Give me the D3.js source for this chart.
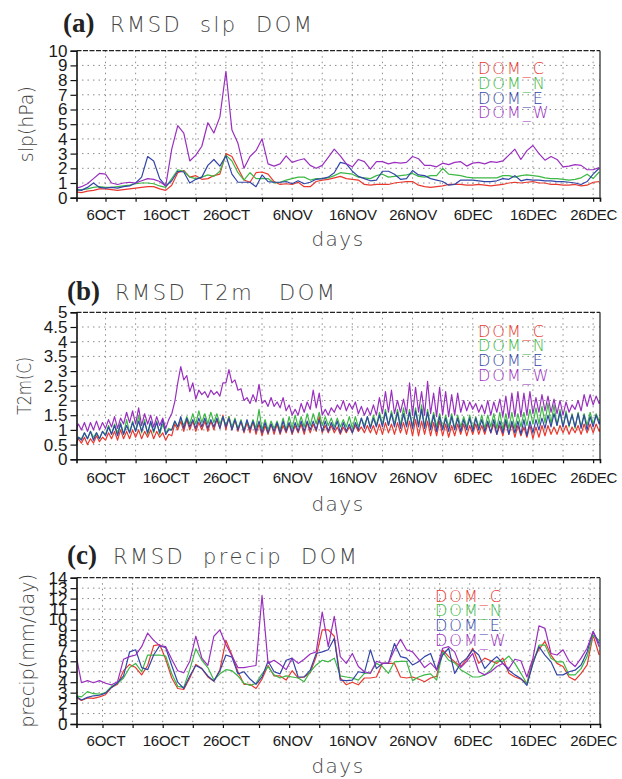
<!DOCTYPE html>
<html>
<head>
<meta charset="utf-8">
<script src="https://cdn.jsdelivr.net/npm/d3@7"></script>
<style>
body { margin: 0; background: #fff; }
</style>
</head>
<body>
<svg id="chart" width="622" height="779"></svg>
<script>
// ---- data ----
var seriesNames = ["DOM_C", "DOM_N", "DOM_E", "DOM_W"];
var xTickLabels = ["6OCT", "16OCT", "26OCT", "6NOV", "16NOV", "26NOV", "6DEC", "16DEC", "26DEC"];
var gridMonthDays = [1, 6, 11, 16, 21, 26];
var slpTicks = [0, 1, 2, 3, 4, 5, 6, 7, 8, 9, 10];
var t2mTicks = [0, 0.5, 1, 1.5, 2, 2.5, 3, 3.5, 4, 4.5, 5];
var precipTicks = [0, 1, 2, 3, 4, 5, 6, 7, 8, 9, 10, 11, 12, 13, 14];

// (a) slp, daily from 1 Oct
var slpC = [0.4,0.35,0.45,0.5,0.6,0.6,0.55,0.5,0.55,0.6,
  0.65,0.7,0.75,0.75,0.6,0.5,0.85,1.7,1.85,1.4,
  1.5,1.25,1.3,1.5,1.6,3.0,2.8,2.0,1.2,1.05,
  1.7,1.75,1.6,1.1,0.9,0.95,0.9,1.05,0.75,0.75,
  1.1,1.2,1.25,1.35,1.45,1.3,1.25,1.2,0.9,0.85,
  0.9,0.9,0.9,1.0,1.05,1.1,1.1,0.85,0.75,0.7,
  0.75,0.8,0.9,0.9,0.9,0.85,0.85,0.9,0.85,0.8,
  0.85,0.9,1.0,1.05,1.0,1.05,1.1,1.0,1.0,0.9,
  0.9,0.85,0.85,0.9,0.8,0.85,1.05,1.1];
var slpN = [0.5,0.55,0.6,0.7,0.75,0.7,0.7,0.75,0.8,0.85,
  0.95,1.0,1.0,0.95,0.8,0.7,1.3,1.9,1.8,1.4,
  1.3,1.4,1.55,1.45,1.8,2.9,2.5,1.7,1.2,1.7,
  1.3,1.3,1.3,1.0,1.05,1.2,1.3,1.4,1.4,1.2,
  1.3,1.3,1.35,1.5,1.7,1.65,1.6,1.4,1.35,1.3,
  1.5,1.6,1.4,1.45,1.5,1.55,1.65,1.45,1.4,1.5,
  1.5,2.0,1.6,1.55,1.5,1.4,1.35,1.35,1.35,1.35,
  1.35,1.5,1.5,1.4,1.5,1.55,1.5,1.45,1.35,1.3,
  1.3,1.25,1.2,1.25,1.35,1.6,1.3,1.75];
var slpE = [0.55,0.5,0.7,1.0,0.7,0.65,0.7,0.65,0.75,0.8,
  1.0,1.4,2.8,2.5,1.3,0.8,1.15,1.8,1.75,1.0,
  1.25,1.4,2.2,2.6,2.15,2.85,1.6,1.05,1.05,1.05,
  0.75,1.55,1.1,1.05,1.05,1.1,0.95,1.15,0.95,1.05,
  1.25,1.3,1.4,1.7,2.4,2.3,1.8,1.45,1.3,1.15,
  1.2,1.8,1.8,1.6,1.25,1.3,1.85,1.55,1.5,1.3,
  1.2,1.1,0.85,0.9,1.2,1.2,1.2,1.15,1.1,1.1,
  1.15,1.3,1.25,1.5,1.15,1.25,1.2,1.2,1.15,1.15,
  1.1,1.1,1.05,1.0,0.9,1.1,1.6,2.0];
var slpW = [0.63,0.75,0.95,1.3,1.65,1.6,1.0,0.9,1.0,1.05,
  1.0,1.15,1.3,1.25,1.1,0.8,3.3,4.9,4.4,2.5,
  2.9,3.5,5.1,4.4,5.5,8.6,4.6,3.7,2.0,2.8,
  3.2,4.0,2.3,2.15,2.3,2.85,2.4,2.55,2.65,2.2,
  2.0,2.2,2.75,3.3,2.85,2.3,2.1,2.6,2.45,1.95,
  2.45,2.45,2.3,2.4,2.35,2.4,2.8,2.65,2.2,2.2,
  2.1,2.35,2.25,2.4,2.45,2.15,2.35,2.4,2.3,2.45,
  2.4,2.5,2.9,3.3,2.6,3.2,3.55,3.0,2.55,2.8,
  2.6,2.1,2.15,2.25,2.2,1.9,1.9,2.05];

// (b) T2m, twice daily from 1 Oct
var t2mC = [0.5,0.7, 0.55,0.75, 0.5,0.7, 0.55,0.8, 0.6,0.75,
  0.65,0.9, 0.7,0.95, 0.65,1.0, 0.7,0.95, 0.7,1.0,
  0.75,1.0, 0.7,0.95, 0.75,1.0, 0.7,0.95, 0.75,0.9,
  0.65,0.85, 0.8,1.2, 1.0,1.3, 0.95,1.35, 1.0,1.3,
  0.95,1.25, 1.0,1.3, 0.95,1.3, 1.0,1.35, 1.05,1.5,
  1.0,1.45, 1.0,1.35, 0.95,1.3, 0.9,1.25, 0.9,1.3,
  0.85,1.2, 0.8,1.15, 0.85,1.2, 0.85,1.2, 0.85,1.15,
  0.9,1.2, 0.85,1.15, 0.9,1.2, 0.85,1.25, 0.9,1.2,
  0.95,1.45, 0.9,1.15, 0.9,1.15, 0.9,1.1, 0.85,1.1,
  0.9,1.1, 0.9,1.15, 0.95,1.1, 0.9,1.15, 0.9,1.15,
  0.85,1.2, 0.85,1.25, 0.9,1.2, 0.85,1.25, 0.9,1.25,
  0.85,1.3, 0.8,1.35, 0.8,1.3, 0.85,1.3, 0.8,1.25,
  0.8,1.3, 0.8,1.2, 0.75,1.15, 0.8,1.2, 0.85,1.2,
  0.8,1.15, 0.85,1.2, 0.85,1.15, 0.85,1.2, 0.9,1.2,
  0.85,1.15, 0.8,1.25, 0.85,1.2, 0.75,1.15, 0.8,1.1,
  0.75,1.15, 0.7,1.1, 0.75,1.15, 0.8,1.15, 0.85,1.1,
  0.85,1.15, 0.9,1.15, 0.85,1.1, 0.9,1.15, 0.85,1.2,
  0.9,1.2, 0.9,1.2, 0.95,1.2];
var t2mN = [0.4,0.75, 0.7,0.9, 0.7,0.95, 0.75,0.9, 0.7,0.95,
  0.85,1.15, 0.85,1.2, 0.9,1.25, 0.85,1.35, 0.9,1.3,
  0.95,1.5, 0.9,1.35, 0.85,1.25, 0.9,1.3, 0.85,1.2,
  0.9,1.05, 1.0,1.3, 1.1,1.4, 1.15,1.45, 1.2,1.55,
  1.2,1.65, 1.25,1.55, 1.2,1.6, 1.25,1.55, 1.2,1.45,
  1.15,1.45, 1.1,1.4, 1.05,1.35, 1.0,1.3, 1.05,1.35,
  1.05,1.7, 1.0,1.35, 1.0,1.3, 1.05,1.3, 1.0,1.4,
  1.0,1.45, 1.05,1.5, 1.1,1.45, 1.1,1.55, 1.15,1.55,
  1.2,1.6, 1.15,1.45, 1.15,1.4, 1.1,1.4, 1.1,1.35,
  1.1,1.45, 1.05,1.45, 1.1,1.4, 1.15,1.45, 1.1,1.5,
  1.15,1.6, 1.2,1.7, 1.15,1.65, 1.2,1.7, 1.15,1.75,
  1.15,1.7, 1.1,1.75, 1.15,1.85, 1.1,1.7, 1.1,1.6,
  1.1,1.55, 1.05,1.5, 1.1,1.55, 1.05,1.5, 1.1,1.45,
  1.1,1.5, 1.05,1.45, 1.1,1.5, 1.05,1.5, 1.1,1.55,
  1.05,1.6, 1.0,1.55, 1.05,1.6, 1.05,1.55, 1.1,1.6,
  1.15,1.7, 1.2,1.75, 1.2,1.8, 1.25,1.9, 1.2,1.85,
  1.15,1.7, 1.1,1.65, 1.1,1.55, 1.05,1.6, 1.1,1.55,
  1.15,1.6, 1.2,1.55, 1.3,1.5];
var t2mE = [0.45,0.75, 0.65,0.9, 0.7,0.95, 0.65,0.9, 0.7,0.95,
  0.8,1.1, 0.85,1.15, 0.8,1.2, 0.85,1.15, 0.9,1.25,
  0.95,1.3, 0.95,1.25, 0.9,1.3, 0.95,1.25, 0.9,1.35,
  0.85,1.0, 1.0,1.3, 1.1,1.45, 1.05,1.4, 1.1,1.35,
  1.05,1.4, 1.1,1.4, 1.05,1.35, 1.1,1.4, 1.05,1.45,
  1.1,1.4, 1.0,1.35, 1.0,1.3, 0.95,1.35, 1.0,1.3,
  0.95,1.3, 0.9,1.25, 0.9,1.2, 0.95,1.25, 0.9,1.3,
  0.95,1.25, 0.9,1.25, 0.95,1.3, 0.95,1.3, 1.0,1.3,
  1.0,1.35, 0.95,1.3, 0.95,1.25, 1.0,1.3, 0.9,1.25,
  0.95,1.2, 0.9,1.25, 1.0,1.4, 1.05,1.45, 1.05,1.4,
  1.1,1.5, 1.1,1.6, 1.15,1.55, 1.1,1.6, 1.05,1.55,
  1.1,1.6, 1.05,1.65, 1.1,1.7, 1.05,1.6, 1.0,1.5,
  0.95,1.45, 1.0,1.4, 0.95,1.45, 1.0,1.4, 0.95,1.35,
  1.0,1.4, 0.95,1.4, 1.0,1.35, 0.95,1.3, 0.9,1.35,
  0.85,1.3, 0.9,1.35, 0.85,1.3, 0.9,1.3, 0.85,1.35,
  0.8,1.3, 0.9,1.35, 1.0,1.4, 1.05,1.5, 1.1,1.55,
  1.15,1.6, 1.1,1.55, 1.15,1.5, 1.1,1.55, 1.05,1.5,
  1.0,1.45, 1.1,1.5, 1.2,1.5];
var t2mW = [0.95,1.2, 1.0,1.25, 0.95,1.25, 1.0,1.3, 1.0,1.25,
  1.05,1.35, 1.1,1.45, 1.05,1.4, 1.2,1.6, 1.25,1.65,
  1.2,1.75, 1.15,1.55, 1.2,1.5, 1.1,1.45, 1.15,1.4,
  1.05,1.35, 1.55,1.95, 2.6,3.15, 2.7,2.85, 2.3,2.6,
  2.05,2.35, 2.2,2.3, 2.1,2.35, 2.2,2.3, 2.15,2.6,
  2.6,3.05, 2.6,2.7, 2.35,2.4, 2.0,2.1, 1.9,2.2,
  1.95,2.55, 1.9,2.0, 1.8,2.1, 1.8,1.95, 1.75,2.1,
  1.65,1.85, 1.5,1.7, 1.5,1.9, 1.6,1.95, 1.7,2.35,
  1.75,2.25, 1.5,1.7, 1.5,1.75, 1.6,1.85, 1.7,2.0,
  1.65,1.9, 1.7,1.95, 1.55,1.8, 1.5,1.75, 1.5,1.85,
  1.5,2.1, 1.55,2.3, 1.6,2.35, 1.55,2.0, 1.6,2.05,
  1.55,2.6, 1.5,2.45, 1.6,2.3, 1.5,2.65, 1.55,2.25,
  1.45,2.45, 1.5,2.3, 1.45,2.2, 1.5,2.25, 1.6,2.0,
  1.65,1.95, 1.7,1.9, 1.6,1.85, 1.55,2.0, 1.5,1.95,
  1.6,2.05, 1.45,2.15, 1.4,2.25, 1.45,2.3, 1.45,2.25,
  1.5,2.3, 1.55,2.1, 1.6,2.2, 1.65,2.15, 1.6,2.05,
  1.55,2.0, 1.5,1.95, 1.6,1.85, 1.7,2.0, 1.65,2.2,
  1.8,2.2, 1.85,2.15, 1.9,2.1];

// (c) precip, daily from 1 Oct
var preC = [2.6,2.25,2.5,2.45,2.6,2.8,3.5,3.8,5.1,5.7,
  5.4,4.7,5.6,7.5,7.6,6.2,4.4,3.4,3.3,4.4,
  5.7,5.3,4.5,4.1,5.2,8.0,6.6,5.0,3.8,3.8,
  3.4,4.3,5.6,4.6,4.6,4.2,5.1,4.4,4.5,4.9,
  6.45,9.0,9.0,8.4,4.4,3.75,4.0,3.75,4.4,4.4,
  4.5,5.8,5.8,5.8,4.5,4.4,4.5,4.3,4.05,4.4,
  4.55,7.1,6.45,5.95,5.5,6.2,7.25,5.8,6.3,6.05,
  5.8,6.3,4.85,4.5,4.3,3.9,6.1,7.15,7.9,6.6,
  5.8,5.5,4.5,4.2,4.85,5.65,8.5,6.6];
var preN = [2.7,2.6,3.1,2.9,2.85,3.0,3.6,3.9,4.4,5.4,
  5.8,5.0,6.6,6.6,6.6,6.5,4.8,3.6,3.5,5.2,
  7.2,6.1,5.4,4.2,4.8,5.2,5.1,4.6,3.9,3.7,
  3.9,4.8,5.5,4.7,4.4,4.6,4.5,4.4,4.05,5.0,
  5.65,6.1,5.95,6.3,4.6,4.5,4.4,4.2,4.85,4.9,
  5.8,5.5,4.85,5.95,6.0,6.0,4.15,4.5,4.7,4.8,
  4.2,6.9,6.1,5.85,5.2,4.85,4.5,4.5,4.7,5.2,
  6.05,6.0,6.5,5.8,4.85,3.85,5.8,7.55,7.55,6.3,
  5.95,5.95,4.7,4.7,5.3,6.45,8.5,8.0];
var preE = [2.7,2.3,2.55,2.7,2.75,2.95,3.5,3.95,4.6,6.9,
  7.1,5.4,5.2,6.6,7.5,7.3,5.6,4.0,3.4,4.6,
  5.6,5.3,4.6,4.1,5.1,6.6,6.4,4.8,5.0,4.3,
  3.8,4.5,6.0,5.0,4.8,6.1,6.3,4.5,4.5,5.15,
  6.75,6.9,7.1,8.2,4.2,4.15,4.2,5.0,4.9,7.1,
  5.3,5.8,5.8,7.7,6.45,6.3,5.65,5.95,6.45,6.75,
  5.15,6.6,7.25,4.85,5.8,6.3,7.1,6.6,5.3,5.95,
  6.45,5.8,5.15,4.7,4.35,3.7,5.8,7.4,6.6,5.95,
  4.7,4.7,5.0,5.15,5.65,6.9,8.85,7.7];
var preW = [6.9,3.95,4.15,3.95,4.15,3.9,3.75,4.05,6.2,6.45,
  6.6,7.4,8.7,8.0,7.5,7.4,6.2,5.1,4.9,6.0,
  8.4,6.3,5.6,8.4,9.0,7.6,6.5,5.4,5.4,5.5,
  5.6,12.3,5.8,6.1,5.7,5.2,6.3,5.8,6.2,6.7,
  6.9,10.7,7.4,10.3,6.45,5.8,6.75,5.5,5.0,4.85,
  6.0,5.8,5.85,7.1,8.1,7.1,6.9,6.2,5.4,5.85,
  5.2,7.25,7.4,6.9,5.4,6.0,6.75,5.0,4.7,5.0,
  5.5,5.8,5.3,6.2,6.05,4.5,6.3,9.4,9.15,6.75,
  6.6,7.1,6.0,5.5,6.3,7.25,8.85,7.4];

// ---- layout ----
var colors = ["#e8392f", "#3cb844", "#3346a8", "#9a2fbf"];
var DAY = 864e5;
var t0 = Date.UTC(2009, 9, 1);
var X0 = 76.5, X1 = 600;
var sansFont = "Liberation Sans, Arial, sans-serif";
var thinFont = "DejaVu Sans, sans-serif";

var svg = d3.select("#chart");

var x = d3.scaleUtc()
    .domain([new Date(t0 + 0.18 * DAY), new Date(t0 + 87.14 * DAY)])
    .range([X0, X1]);

var parseTick = d3.utcParse("%d%b%Y");
var labelDates = xTickLabels.map(function(s) { return parseTick(s + "2009"); });
var gridDates = d3.utcDay.range(x.domain()[0], x.domain()[1])
    .filter(function(d) { return gridMonthDays.indexOf(d.getUTCDate()) >= 0; });

var panels = [
  { key: "a", tag: "(a)", tagX: 63, words: [["RMSD", 110], ["slp", 200], ["DOM", 256]], titleY: 32,
    ylab: "slp(hPa)", ylabX: 33, ylabLen: 76,
    top: 50.7, bottom: 197.7, ticks: slpTicks, step: 1, gridShift: 0,
    series: [slpC, slpN, slpE, slpW], legendX: 478, legendY: 74.3, labelPad: 11.6, daysY: 246 },
  { key: "b", tag: "(b)", tagX: 67, words: [["RMSD", 115], ["T2m", 200], ["DOM", 279]], titleY: 300,
    ylab: "T2m(C)", ylabX: 31, ylabLen: 58,
    top: 312.3, bottom: 459.3, ticks: t2mTicks, step: 0.5, gridShift: 0,
    series: [t2mC, t2mN, t2mE, t2mW], legendX: 478, legendY: 336.5, labelPad: 13, daysY: 511 },
  { key: "c", tag: "(c)", tagX: 67, words: [["RMSD", 113], ["precip", 203], ["DOM", 301]], titleY: 564,
    ylab: "precip(mm/day)", ylabX: 34, ylabLen: 154,
    top: 577.7, bottom: 724, ticks: precipTicks, step: 1, gridShift: -0.5,
    series: [preC, preN, preE, preW], legendX: 435, legendY: 601.5, labelPad: 11.4, daysY: 773 }
];

panels.forEach(function(p) {
  var g = svg.append("g");
  var ymax = p.ticks[p.ticks.length - 1];
  var y = d3.scaleLinear().domain([0, ymax]).range([p.bottom, p.top]);

  svg.append("clipPath").attr("id", "clip" + p.key)
    .append("rect")
    .attr("x", X0).attr("y", p.top)
    .attr("width", X1 - X0).attr("height", p.bottom - p.top);

  // dotted grid
  g.append("g").selectAll("line")
    .data(p.ticks.slice(1, -1))
    .join("line")
    .attr("x1", X0).attr("x2", X1)
    .attr("y1", function(d) { return y(d); })
    .attr("y2", function(d) { return y(d); })
    .attr("stroke", "#8c8c8c").attr("stroke-dasharray", "1.5,4");

  var vGrid = gridDates.map(function(d) { return new Date(+d + p.gridShift * DAY); });
  g.append("g").selectAll("line")
    .data(vGrid)
    .join("line")
    .attr("x1", function(d) { return x(d); })
    .attr("x2", function(d) { return x(d); })
    .attr("y1", p.top).attr("y2", p.bottom)
    .attr("stroke", "#8c8c8c").attr("stroke-dasharray", "1.5,4");

  // series
  var line = d3.line()
    .x(function(d) { return x(d.t); })
    .y(function(d) { return y(d.v); });
  p.series.forEach(function(vals, k) {
    var pts = vals.map(function(v, i) { return { t: new Date(t0 + i * p.step * DAY), v: v }; });
    g.append("path")
      .attr("clip-path", "url(#clip" + p.key + ")")
      .attr("d", line(pts))
      .attr("fill", "none")
      .attr("stroke", colors[k])
      .attr("stroke-width", 1.2)
      .attr("stroke-linejoin", "round");
  });

  // frame
  g.append("line").attr("x1", X0).attr("x2", X1).attr("y1", p.top).attr("y2", p.top)
    .attr("stroke", "#222").attr("stroke-width", 1.2).attr("stroke-dasharray", "5,1.5");
  g.append("line").attr("x1", X1).attr("x2", X1).attr("y1", p.top).attr("y2", p.bottom)
    .attr("stroke", "#222").attr("stroke-width", 1.2);

  // y axis
  var yAxis = g.append("g")
    .attr("transform", "translate(" + X0 + ",0)")
    .call(d3.axisLeft(y).tickValues(p.ticks).tickSize(6).tickPadding(3)
      .tickFormat(d3.format("~g")));
  yAxis.selectAll("text").attr("font-size", 17).attr("fill", "#1a1a1a")
    .attr("font-family", sansFont);

  // x axis: tick marks at grid positions, labels every 10 days
  var xAxis = g.append("g")
    .attr("transform", "translate(0," + p.bottom + ")")
    .call(d3.axisBottom(x).tickValues(vGrid).tickSize(4).tickFormat(""));
  var xLab = g.append("g")
    .attr("transform", "translate(0," + p.bottom + ")")
    .call(d3.axisBottom(x).tickValues(labelDates).tickSize(0).tickPadding(p.labelPad)
      .tickFormat(function(d, i) { return xTickLabels[i]; }));
  xLab.select(".domain").remove();
  xLab.selectAll("text").attr("font-size", 15).attr("fill", "#1a1a1a")
    .attr("letter-spacing", "-0.3").attr("font-family", sansFont);

  [yAxis, xAxis].forEach(function(a) {
    a.select(".domain").attr("stroke", "#111").attr("stroke-width", 1.6);
    a.selectAll(".tick line").attr("stroke", "#111").attr("stroke-width", 1.2);
  });

  // titles
  svg.append("text")
    .attr("x", p.tagX).attr("y", p.titleY)
    .attr("font-family", "Liberation Serif, Times New Roman, serif")
    .attr("font-weight", "bold").attr("font-size", 27).attr("fill", "#222")
    .text(p.tag);
  p.words.forEach(function(w) {
    svg.append("text")
      .attr("x", w[1]).attr("y", p.titleY)
      .attr("font-family", thinFont).attr("font-weight", 200)
      .attr("font-size", 21).attr("letter-spacing", 2.5).attr("fill", "#444")
      .text(w[0]);
  });

  // axis titles
  svg.append("text")
    .attr("transform", "translate(" + p.ylabX + "," + ((p.top + p.bottom) / 2) + ") rotate(-90)")
    .attr("text-anchor", "middle")
    .attr("font-family", thinFont).attr("font-weight", 200)
    .attr("font-size", 20).attr("fill", "#444")
    .attr("textLength", p.ylabLen).attr("lengthAdjust", "spacingAndGlyphs")
    .text(p.ylab);
  svg.append("text")
    .attr("x", 338).attr("y", p.daysY)
    .attr("text-anchor", "middle")
    .attr("font-family", thinFont).attr("font-weight", 200)
    .attr("font-size", 20).attr("letter-spacing", 1.5).attr("fill", "#444")
    .text("days");

  // legend
  seriesNames.forEach(function(n, k) {
    svg.append("text")
      .attr("x", p.legendX).attr("y", p.legendY + k * 14.7)
      .attr("font-family", thinFont).attr("font-weight", 200)
      .attr("font-size", 16).attr("letter-spacing", 2)
      .attr("fill", colors[k])
      .text(n);
  });
});
</script>
</body>
</html>
